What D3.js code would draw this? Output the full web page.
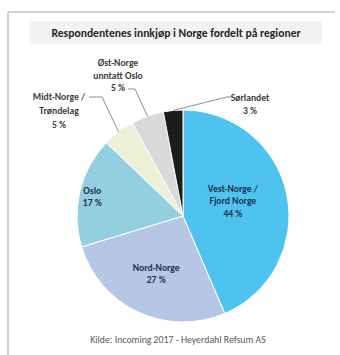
<!DOCTYPE html>
<html>
<head>
<meta charset="utf-8">
<script src="https://cdn.jsdelivr.net/npm/d3@7"></script>
<style>
  body { margin: 0; background: #fff; }
  svg { display: block; font-family: Calibri, Carlito, "Open Sans", sans-serif; }
</style>
</head>
<body>
<svg width="340" height="355"></svg>
<script>
const regions = ["Vest-Norge / Fjord Norge", "Nord-Norge", "Oslo", "Midt-Norge / Trøndelag", "Øst-Norge unntatt Oslo", "Sørlandet"];
const shares = [44, 27, 17, 5, 5, 3];
const colors = ["#4ec3f0", "#b5c7e5", "#94cfdf", "#ebf0d6", "#d9d9d9", "#1c1c1c"];
const labelLines = [
  ["Vest-Norge /", "Fjord Norge", "44 %"],
  ["Nord-Norge", "27 %"],
  ["Oslo", "17 %"],
  ["Midt-Norge /", "Trøndelag", "5 %"],
  ["Øst-Norge", "unntatt Oslo", "5 %"],
  ["Sørlandet", "3 %"]
];
const title = "Respondentenes innkjøp i Norge fordelt på regioner";
const source = "Kilde: Incoming 2017 - Heyerdahl Refsum AS";

const svg = d3.select("svg");
const cx = 183, cy = 216, radius = 106;

// frame (top + left only, like the screenshot)
svg.append("line").attr("x1", 8).attr("x2", 335).attr("y1", 12).attr("y2", 12)
  .attr("stroke", "#d4d4d4").attr("stroke-width", 2);
svg.append("line").attr("x1", 8).attr("x2", 8).attr("y1", 12).attr("y2", 355)
  .attr("stroke", "#d4d4d4").attr("stroke-width", 2);

// title band
svg.append("rect").attr("x", 29).attr("y", 21).attr("width", 293).attr("height", 23)
  .attr("fill", "#f2f2f2");
svg.append("text").attr("x", 176).attr("y", 37).attr("text-anchor", "middle")
  .style("font-size", "11.6px").style("font-weight", "bold").attr("fill", "#262626")
  .text(title);

const data = regions.map((r, i) => ({ region: r, value: shares[i], color: colors[i], lines: labelLines[i] }));

const pie = d3.pie().sort(null).value(d => d.value);
const arc = d3.arc().innerRadius(0).outerRadius(radius);
const arcs = pie(data);

const g = svg.append("g").attr("transform", `translate(${cx},${cy})`);

g.selectAll("path")
  .data(arcs)
  .enter()
  .append("path")
  .attr("d", arc)
  .attr("fill", d => d.data.color)
  .attr("stroke", "#fff")
  .attr("stroke-width", 1);

// inside labels (first three slices): radius factor + vertical nudge
const insidePos = [{ f: 0.48, dy: -5 }, { f: 0.6, dy: 0 }, { f: 0.88, dy: 2 }];
insidePos.forEach((p, k) => {
  const d = arcs[k];
  const a = d3.arc().innerRadius(radius * p.f).outerRadius(radius * p.f);
  const [x, y] = a.centroid(d);
  const n = d.data.lines.length;
  const t = g.append("text").attr("text-anchor", "middle")
    .style("font-size", "9.6px").style("font-weight", "bold").attr("fill", "#1f3350");
  d.data.lines.forEach((line, i) => {
    t.append("tspan").attr("x", x).attr("y", y + p.dy + (i - (n - 1) / 2) * 12.5 + 3.5).text(line);
  });
});

// outside labels with leader lines
const outside = [
  { idx: 3, lx: 59, ly: 100, step: 14, elbow: [[89, 97], [102, 97]] },
  { idx: 4, lx: 118, ly: 66, step: 12.5, elbow: [[128, 89], [135, 89]] },
  { idx: 5, lx: 250, ly: 101, step: 12.5, elbow: [[232, 97], [227, 97]] }
];
const edge = d3.arc().innerRadius(radius).outerRadius(radius);
outside.forEach(o => {
  const d = arcs[o.idx];
  const [ex, ey] = edge.centroid(d);
  const pts = [...o.elbow, [ex + cx, ey + cy]];
  svg.append("path")
    .attr("d", d3.line()(pts))
    .attr("fill", "none").attr("stroke", "#808080").attr("stroke-width", 0.9);
  const t = svg.append("text").attr("text-anchor", "middle")
    .style("font-size", "9.6px").style("font-weight", "bold").attr("fill", "#404040");
  d.data.lines.forEach((line, i) => {
    t.append("tspan").attr("x", o.lx).attr("y", o.ly + i * o.step).text(line);
  });
});

svg.append("text").attr("x", 178).attr("y", 343).attr("text-anchor", "middle")
  .style("font-size", "9.8px").attr("fill", "#595959")
  .text(source);
</script>
</body>
</html>
